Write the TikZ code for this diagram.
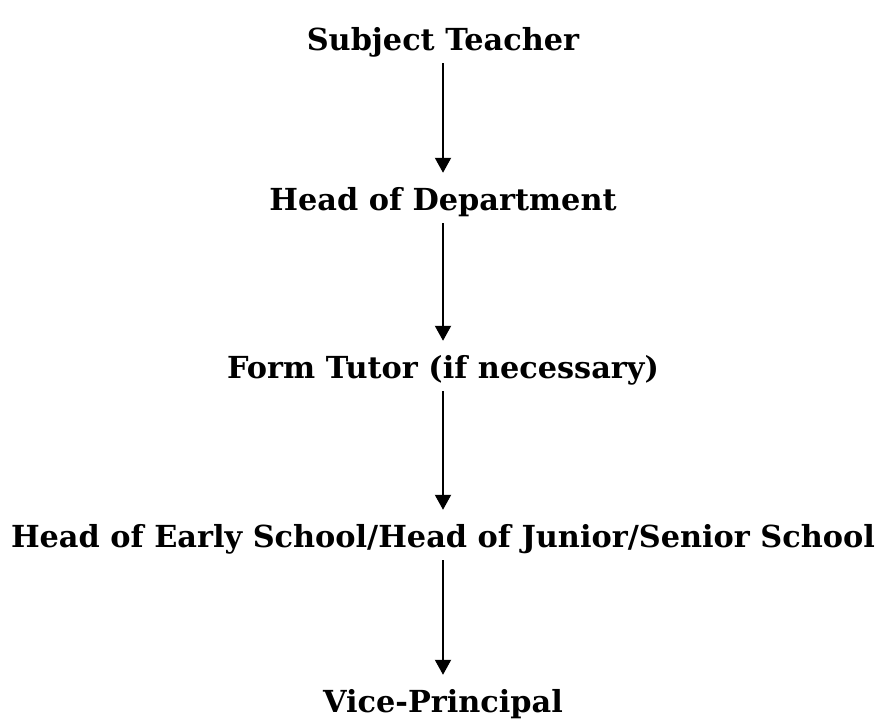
\documentclass[tikz,border=0pt]{standalone}
\usepackage{fontspec}
\setmainfont{DejaVu Serif}
\usetikzlibrary{arrows.meta}

\begin{document}
\begin{tikzpicture}[x=0.03cm,y=-0.03cm,
	>={Triangle[width=0.48cm,length=0.45cm]},
	level/.style = {font=\fontsize{25.9}{30}\selectfont\bfseries,inner sep=0pt,anchor=base,text height=0.66cm,text depth=0pt},
	link/.style = {->,line width=1.7pt,shorten <=0.39cm,shorten >=0.45cm}
	]
	\useasboundingbox (0,0) rectangle (878,721);
	%LIVELLI
	\node[level] (subject) at (443,50) {Subject Teacher};
	\node[level] (hod) at (443,210) {Head of Department};
	\node[level] (tutor) at (443,378) {Form Tutor (if necessary)};
	\node[level] (school) at (443,547) {Head of Early School/Head of Junior/Senior School};
	\node[level] (vice) at (443,712) {Vice-Principal};
	%FRECCE
	\draw[link] (subject) -- (hod);
	\draw[link] (hod) -- (tutor);
	\draw[link] (tutor) -- (school);
	\draw[link] (school) -- (vice);
\end{tikzpicture}
\end{document}
